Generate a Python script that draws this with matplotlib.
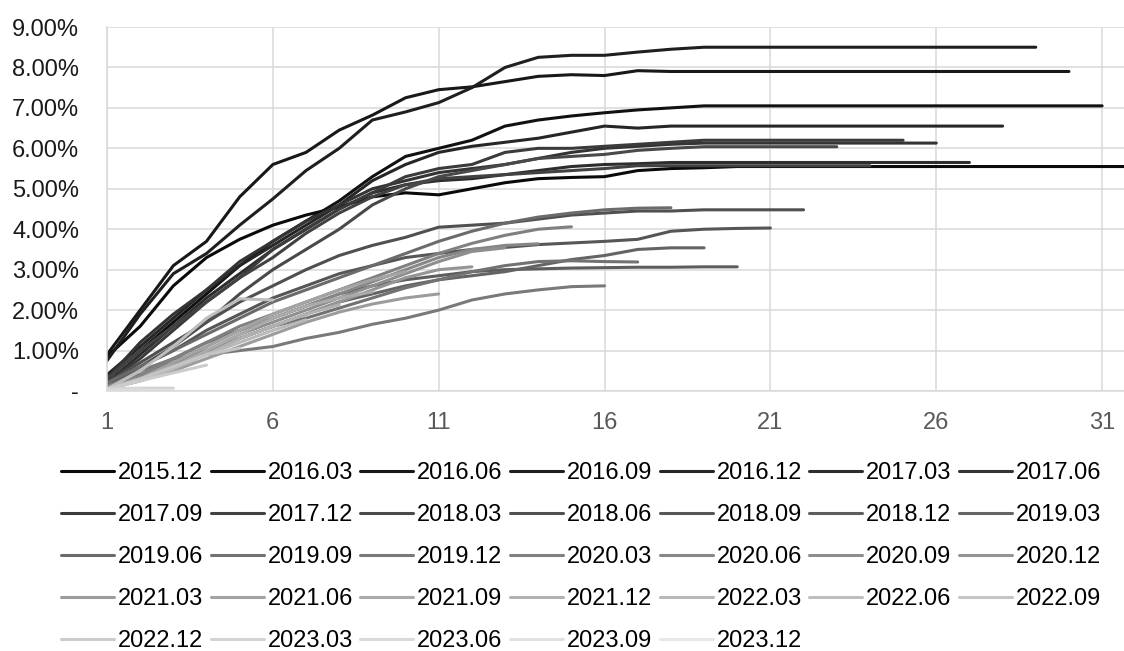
import numpy as np
import matplotlib
matplotlib.use('Agg')
import matplotlib.pyplot as plt
from matplotlib.ticker import FuncFormatter, MultipleLocator

# vintage labels (quarterly cohorts)
vintages = ['2015.12', '2016.03', '2016.06', '2016.09', '2016.12', '2017.03', '2017.06',
            '2017.09', '2017.12', '2018.03', '2018.06', '2018.09', '2018.12', '2019.03',
            '2019.06', '2019.09', '2019.12', '2020.03', '2020.06', '2020.09', '2020.12',
            '2021.03', '2021.06', '2021.09', '2021.12', '2022.03', '2022.06', '2022.09',
            '2022.12', '2023.03', '2023.06', '2023.09', '2023.12']

# cumulative rate (%) by month on book
v2015_12 = [0.85, 1.6, 2.6, 3.3, 3.75, 4.1, 4.35, 4.55, 4.8, 4.9, 4.85, 5.0, 5.15, 5.25, 5.28, 5.3,
            5.45, 5.5, 5.52, 5.55, 5.55, 5.55, 5.55, 5.55, 5.55, 5.55, 5.55, 5.55, 5.55, 5.55, 5.55, 5.55]
v2016_03 = [0.3, 1.0, 1.7, 2.4, 3.1, 3.7, 4.2, 4.7, 5.3, 5.8, 6.0, 6.2, 6.55, 6.7, 6.8, 6.88,
            6.95, 7.0, 7.05, 7.05, 7.05, 7.05, 7.05, 7.05, 7.05, 7.05, 7.05, 7.05, 7.05, 7.05, 7.05]
v2016_06 = [0.9, 2.0, 3.1, 3.7, 4.8, 5.6, 5.9, 6.45, 6.82, 7.25, 7.45, 7.52, 7.65, 7.78, 7.82, 7.8,
            7.92, 7.9, 7.9, 7.9, 7.9, 7.9, 7.9, 7.9, 7.9, 7.9, 7.9, 7.9, 7.9, 7.9]
v2016_09 = [0.75, 1.9, 2.9, 3.4, 4.1, 4.75, 5.45, 6.0, 6.7, 6.9, 7.13, 7.5, 8.0, 8.25, 8.3, 8.3,
            8.38, 8.45, 8.5, 8.5, 8.5, 8.5, 8.5, 8.5, 8.5, 8.5, 8.5, 8.5, 8.5]
v2016_12 = [0.4, 1.1, 1.8, 2.5, 3.1, 3.6, 4.1, 4.6, 5.2, 5.6, 5.9, 6.05, 6.15, 6.25, 6.4, 6.55,
            6.5, 6.55, 6.55, 6.55, 6.55, 6.55, 6.55, 6.55, 6.55, 6.55, 6.55, 6.55]
v2017_03 = [0.2, 0.9, 1.6, 2.3, 2.9, 3.5, 4.0, 4.5, 4.9, 5.1, 5.2, 5.25, 5.35, 5.45, 5.55, 5.6,
            5.62, 5.65, 5.65, 5.65, 5.65, 5.65, 5.65, 5.65, 5.65, 5.65, 5.65]
v2017_06 = [0.3, 1.2, 1.9, 2.5, 3.2, 3.7, 4.2, 4.6, 5.0, 5.2, 5.4, 5.5, 5.6, 5.75, 5.9, 6.0,
            6.05, 6.1, 6.13, 6.13, 6.13, 6.13, 6.13, 6.13, 6.13, 6.13]
v2017_09 = [0.2, 0.8, 1.5, 2.2, 2.8, 3.5, 4.0, 4.5, 4.9, 5.3, 5.5, 5.6, 5.9, 6.0, 6.0, 6.05,
            6.1, 6.15, 6.2, 6.2, 6.2, 6.2, 6.2, 6.2, 6.2]
v2017_12 = [0.3, 1.0, 1.6, 2.2, 2.8, 3.3, 3.9, 4.4, 4.8, 5.1, 5.25, 5.3, 5.35, 5.4, 5.45, 5.5,
            5.57, 5.57, 5.57, 5.57, 5.57, 5.57, 5.57, 5.57]
v2018_03 = [0.1, 0.6, 1.1, 1.7, 2.4, 3.0, 3.5, 4.0, 4.6, 5.0, 5.3, 5.45, 5.6, 5.75, 5.8, 5.85,
            5.95, 6.0, 6.04, 6.04, 6.04, 6.04, 6.04]
v2018_06 = [0.2, 0.7, 1.2, 1.7, 2.2, 2.6, 3.0, 3.35, 3.6, 3.8, 4.05, 4.1, 4.15, 4.25, 4.35, 4.4,
            4.45, 4.45, 4.48, 4.48, 4.48, 4.48]
v2018_09 = [0.2, 0.6, 1.0, 1.5, 1.9, 2.3, 2.6, 2.9, 3.1, 3.3, 3.4, 3.5, 3.55, 3.62, 3.66, 3.7,
            3.75, 3.95, 4.0, 4.02, 4.03]
v2018_12 = [0.1, 0.4, 0.8, 1.2, 1.5, 1.8, 2.1, 2.4, 2.6, 2.75, 2.85, 2.95, 3.0, 3.02, 3.04, 3.05,
            3.06, 3.06, 3.07, 3.07]
v2019_03 = [0.1, 0.4, 0.7, 1.0, 1.3, 1.6, 1.9, 2.2, 2.4, 2.6, 2.75, 2.85, 2.95, 3.1, 3.25, 3.35,
            3.5, 3.54, 3.54]
v2019_06 = [0.2, 0.6, 1.0, 1.4, 1.8, 2.2, 2.5, 2.8, 3.1, 3.4, 3.7, 3.95, 4.15, 4.3, 4.4, 4.48,
            4.52, 4.53]
v2019_09 = [0.1, 0.4, 0.7, 1.0, 1.3, 1.6, 1.8, 2.05, 2.3, 2.55, 2.75, 2.95, 3.1, 3.2, 3.22, 3.2, 3.19]
v2019_12 = [0.1, 0.5, 0.8, 0.9, 1.0, 1.1, 1.3, 1.45, 1.65, 1.8, 2.0, 2.25, 2.4, 2.5, 2.58, 2.6]
v2020_03 = [0.1, 0.4, 0.8, 1.2, 1.6, 1.9, 2.2, 2.5, 2.8, 3.1, 3.4, 3.65, 3.85, 4.0, 4.06]
v2020_06 = [0.1, 0.35, 0.7, 1.1, 1.5, 1.8, 2.1, 2.4, 2.7, 3.0, 3.3, 3.5, 3.6, 3.64]
v2020_09 = [0.05, 0.3, 0.6, 1.0, 1.4, 1.7, 2.0, 2.3, 2.6, 2.9, 3.2, 3.45, 3.54]
v2020_12 = [0.05, 0.3, 0.6, 0.9, 1.3, 1.6, 1.9, 2.2, 2.5, 2.8, 3.0, 3.07]
v2021_03 = [0.05, 0.25, 0.5, 0.8, 1.1, 1.4, 1.7, 1.95, 2.15, 2.3, 2.4]
v2021_06 = [0.05, 0.3, 0.7, 1.1, 1.5, 1.9, 2.2, 2.5, 2.75, 2.95]
v2021_09 = [0.05, 0.3, 0.6, 1.0, 1.4, 1.8, 2.1, 2.3, 2.45]
v2021_12 = [0.05, 0.3, 0.6, 0.9, 1.3, 1.6, 1.9, 2.13]
v2022_03 = [0.05, 0.25, 0.55, 0.9, 1.2, 1.5, 1.76]
v2022_06 = [0.05, 0.5, 1.1, 1.8, 2.28, 2.25]
v2022_09 = [0.05, 0.3, 0.6, 0.9, 1.06]
v2022_12 = [0.05, 0.25, 0.45, 0.64]
v2023_03 = [0.05, 0.07, 0.07]
v2023_06 = [0.02, 0.05]
v2023_09 = [0.0]
v2023_12 = []

curves = [v2015_12, v2016_03, v2016_06, v2016_09, v2016_12, v2017_03, v2017_06, v2017_09,
          v2017_12, v2018_03, v2018_06, v2018_09, v2018_12, v2019_03, v2019_06, v2019_09,
          v2019_12, v2020_03, v2020_06, v2020_09, v2020_12, v2021_03, v2021_06, v2021_09,
          v2021_12, v2022_03, v2022_06, v2022_09, v2022_12, v2023_03, v2023_06, v2023_09,
          v2023_12]

plt.rcParams['font.family'] = ['Liberation Sans', 'DejaVu Sans']
plt.rcParams['font.size'] = 17

fig = plt.figure(figsize=(11.24, 6.51), dpi=100)
ax = fig.add_axes([107 / 1124, 1 - 391 / 651, 1017 / 1124, 364 / 651])

n = len(curves)
lines = []
for i, (lab, vals) in enumerate(zip(vintages, curves)):
    g = 0.04 + 0.87 * i / (n - 1)  # black -> light grey
    x = np.arange(1, len(vals) + 1)
    ln, = ax.plot(x, vals, color=(g, g, g), lw=2.2, label=lab,
                  solid_capstyle='round', solid_joinstyle='round', zorder=2 + i * 0.01)
    lines.append(ln)

ax.set_xlim(1, 31.66)
ax.set_ylim(0, 9)
ax.set_xticks([1, 6, 11, 16, 21, 26, 31])
ax.yaxis.set_major_locator(MultipleLocator(1))
ax.yaxis.set_major_formatter(FuncFormatter(lambda v, p: '-' if v == 0 else '%.2f%%' % v))

ax.grid(True, color='#d9d9d9', lw=1.1)
ax.set_axisbelow(True)
for s in ['top', 'right']:
    ax.spines[s].set_visible(False)
ax.spines['left'].set_color('#d9d9d9')
ax.spines['bottom'].set_color('#d9d9d9')
ax.spines['bottom'].set_linewidth(1.1)
ax.spines['left'].set_linewidth(1.1)
ax.tick_params(axis='both', length=0)
ax.tick_params(axis='x', pad=15, colors='#595959')
ax.tick_params(axis='y', pad=20, labelcolor='#1a1a1a')

# legend reads row by row, matplotlib fills by column
ncol = 7
order = []
for c in range(ncol):
    for r in range(5):
        k = r * ncol + c
        if k < n:
            order.append(k)
fig.legend([lines[k] for k in order], [vintages[k] for k in order],
           loc='upper left', bbox_to_anchor=(61 / 1124, 1 - 462 / 651), ncol=ncol,
           frameon=False, handlelength=2.25, handletextpad=0.17, columnspacing=0.3,
           labelspacing=0.85, borderpad=0, borderaxespad=0, fontsize=17)

plt.savefig('out.png', dpi=100)
